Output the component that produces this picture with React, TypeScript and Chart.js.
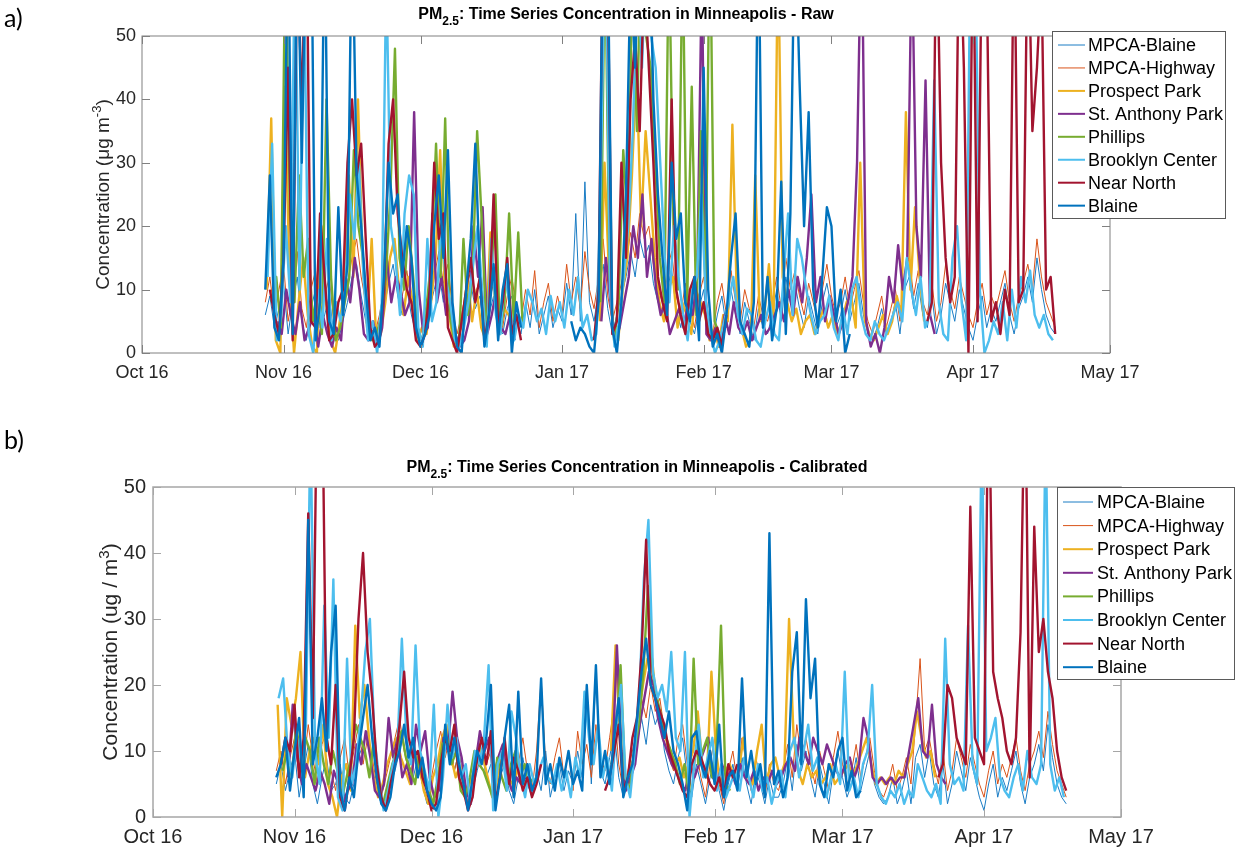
import React, { useEffect, useRef } from "react";
import { Chart, registerables } from "chart.js";

Chart.register(...registerables);

const _ = null; // no reading at that time

// ---------------- data ----------------
const seriesNames = [
  "MPCA-Blaine",
  "MPCA-Highway",
  "Prospect Park",
  "St. Anthony Park",
  "Phillips",
  "Brooklyn Center",
  "Near North",
  "Blaine",
];

// sampling: first day (days since 1 Oct 2016) of each series, one reading per day
const sampleStart = [27, 27, 27.3, 29.6, 28.4, 27.5, 28, 27];
const sampleStep = [1, 1, 1, 1, 1, 1, 1, 1];

const xTickDays = [0, 31, 61, 92, 123, 151, 182, 212];
const xTickLabels = ["Oct 16", "Nov 16", "Dec 16", "Jan 17", "Feb 17", "Mar 17", "Apr 17", "May 17"];
const yTickValues = [0, 10, 20, 30, 40, 50];

// ---- panel a) raw ----
const rawMpcaBlaine = [
  6, 9, 4, 7, 11, 3, 8, 12, 5, 2,
  7, 10, 4, 6, 9, 3, 2, 5, 8, 12,
  14, 9, 5, 2, 2, 4, 7, 11, 14, 9,
  6, 10, 6, 3, 2, 4, 7, 10, 13, 8,
  11, 5, 2, 4, 8, 11, 7, 9, 3, 6,
  9, 4, 3, 7, 9, 5, 3, 8, 4, 10,
  3, 6, 9, 4, 7, 5, 11, 6, 22, 5,
  27, 8, 5, 10, 14, 7, 3, 6, 9, 12,
  16, 12, 18, 15, 17, 11, 8, 6, 10, 13,
  7, 4, 9, 5, 3, 7, 10, 4, 2, 6,
  9, 4, 10, 6, 3, 8, 5, 2, 7, 4,
  3, 6, 10, 5, 12, 8, 11, 7, 4, 9,
  6, 3, 8, 11, 7, 4, 6, 10, 5, 8,
  11, 6, 3, 2, 4, 7, 3, 5, 8, 3,
  10, 12, 7, 11, 6, 4, 9, 3, 6, 11,
  8, 5, 10, 7, 4, 2, 6, 9, 4, 7,
  5, 8, 11, 6, 3, 7, 9, 12, 8, 15,
  10, 6, 4, 3,
];
const rawMpcaHighway = [
  8, 12, 6, 10, 14, 5, 9, 16, 7, 4,
  10, 13, 6, 9, 12, 5, 3, 7, 11, 15,
  18, 12, 8, 4, 3, 6, 10, 14, 17, 12,
  9, 13, 8, 5, 3, 6, 9, 12, 16, 11,
  14, 7, 3, 6, 10, 13, 9, 12, 5, 8,
  11, 6, 4, 9, 12, 7, 5, 10, 6, 13,
  4, 8, 11, 5, 9, 6, 14, 8, 12, 7,
  16, 10, 7, 12, 18, 9, 5, 8, 11, 14,
  19, 15, 22, 18, 20, 14, 10, 8, 13, 16,
  9, 6, 11, 7, 4, 9, 12, 6, 3, 8,
  11, 6, 13, 8, 5, 10, 7, 4, 9, 6,
  5, 8, 12, 7, 15, 10, 13, 9, 6, 11,
  8, 5, 10, 14, 9, 6, 8, 12, 7, 10,
  13, 8, 5, 3, 6, 9, 4, 7, 10, 5,
  12, 15, 9, 13, 8, 6, 11, 5, 8, 14,
  10, 7, 12, 9, 6, 4, 8, 11, 6, 9,
  7, 10, 13, 8, 5, 9, 11, 14, 10, 18,
  12, 8, 6, 4,
];
const rawProspectPark = [
  10, 37, 2, 0, 42, 12, 0, 8, 15, 6,
  1, 0, 20, 8, 2, 0, 5, 10, 28, 12,
  40, 15, 4, 18, 2, 3, 8, 15, 18, 10,
  6, 12, 8, 2, 4, 3, 8, 15, 32, 10,
  6, 1, 2, 6, 12, 5, 10, 4, 2, 19,
  8, 3, 7, 6, 4, _, _, _, _, _,
  _, _, _, _, _, _, _, _, _, _,
  _, _, _, 5, 30, 12, 3, 2, 10, 15,
  28, 45, 20, 35, 25, 15, 8, 5, 10, 12,
  4, 8, 6, 3, 10, 8, 6, 2, 4, 1,
  6, 5, 36, 8, 4, 1, 2, 28, 5, 6,
  14, 4, 65, 12, 8, 5, 7, 3, 5, 6,
  3, 5, 7, 4, 6, 3, 5, 8, 9, 4,
  30, 5, 3, 2, 4, 6, 3, 5, 9, 6,
  38, 10, 23, 12, 5,
];
const rawStAnthonyPark = [
  5, 3, 10, 6, 3, 8, 2, 4, 6, 1,
  6, 3, 1, 4, 2, 12, 8, 15, 10, 3,
  2, 5, 1, 4, 15, 8, 12, 10, 6, 8,
  38, 10, 3, 4, 22, 8, 12, 6, 8, 3,
  1, 2, 5, 20, 12, 23, 3, 6, 10, 4,
  3, 6, 2, _, _, _, _, _, _, _,
  _, _, _, _, _, _, _, _, _, _,
  _, 5, 15, 8, 2, 4, 8, 12, 20, 15,
  25, 12, 18, 10, 6, 8, 3, 5, 7, 4,
  8, 6, 12, 60, 3, 2, 4, 1, 6, 3,
  8, 4, 3, 5, 2, 4, 6, 3, 4, 6,
  8, 5, 10, 6, 12, 8, 15, 25, 8, 12,
  5, 9, 6, 3, 5, 8, 12, 30, 70, 5,
  1, 3, 0, 4, 12, 8, 17, 10, 15, 65,
  20, 12, 43, 6, 3,
];
const rawPhillips = [
  8, 12, 4, 65, 22, 8, 28, 12, 18, 5,
  10, 3, 40, 12, 2, 4, 8, 12, 32, 20,
  15, 5, 2, 3, 6, 12, 25, 48, 15, 10,
  20, 12, 3, 2, 8, 15, 33, 12, 37, 6,
  2, 1, 18, 6, 12, 35, 21, 4, 10, 25,
  3, 8, 22, 5, 19, 4, _, _, _, _,
  _, _, _, _, _, _, _, _, _, _,
  _, _, 8, 65, 12, 2, 8, 32, 20, 60,
  35, 70, 50, 45, 30, 15, 8, 65, 20, 10,
  65, 8, 42, 6, 35, 10, 70, 5, 3,
];
const rawBrooklynCenter = [
  12, 33, 2, 6, 20, 8, 65, 10, 60, 3,
  0, 10, 4, 18, 2, 8, 5, 10, 25, 18,
  30, 12, 2, 5, 0, 8, 60, 20, 15, 6,
  22, 28, 25, 4, 1, 18, 5, 8, 20, 12,
  8, 2, 1, 4, 8, 14, 20, 10, 1, 18,
  6, 3, 12, 8, 2, 6, 4, 10, 8, 5,
  7, 3, 9, 5, 8, 4, 10, 6, 12, 4,
  6, 2, 3, 28, 70, 10, 1, 5, 12, 20,
  35, 60, 45, 65, 50, 45, 30, 15, 8, 20,
  12, 6, 2, 10, 12, 25, 8, 3, 0, 2,
  5, 8, 12, 6, 3, 7, 6, 2, 1, 5,
  8, 3, 2, 12, 22, 6, 18, 15, 10, 6,
  3, 5, 6, 9, 4, 2, 7, 3, 10, 12,
  6, 3, 2, 5, 3, 2, 4, 6, 8, 5,
  15, 10, 6, 12, 4, 6, 43, 8, 3, 2,
  15, 20, 8, 2, 70, 65, 10, 0, 2, 5,
  3, 8, 2, 10, 4, 12, 8, 13, 6, 4,
  6, 3, 2,
];
const rawNearNorth = [
  10, 6, 3, 15, 45, 2, 65, 38, 70, 5,
  4, 22, 12, 2, 3, 8, 10, 30, 40, 28,
  33, 18, 4, 1, 2, 10, 33, 40, 22, 15,
  10, 8, 2, 1, 3, 10, 30, 18, 22, 4,
  2, 0, 5, 10, 15, 8, 12, 2, 6, 25,
  4, 8, 15, 3, 6, 2, _, _, _, _,
  _, _, _, _, _, _, _, _, _, _,
  _, 2, 10, 70, 60, 3, 5, 30, 15, 40,
  50, 35, 60, 45, 30, 12, 8, 5, 40, 10,
  6, 3, 10, 12, 5, 8, 3, 2, 4, 1,
  6, _, _, _, _, _, _, _, _, _,
  _, _, _, _, _, _, _, _, _, _,
  _, _, _, _, _, _, _, _, _, _,
  _, _, _, _, _, _, _, _, _, _,
  _, _, _, _, 5, 8, 70, 30, 15, 8,
  12, 70, 45, 0, 70, 5, 70, 60, 5, 8,
  3, 10, 6, 70, 8, 10, 70, 35, 45, 60,
  10, 12, 3,
];
const rawBlaine = [
  10, 28, 4, 2, 15, 70, 3, 70, 30, 70,
  75, 2, 8, 70, 5, 3, 23, 6, 14, 70,
  28, 20, 10, 2, 4, 1, 12, 30, 22, 25,
  12, 20, 15, 4, 1, 3, 6, 20, 28, 15,
  32, 8, 1, 0, 10, 18, 33, 12, 1, 6,
  14, 2, 10, 14, 0, 8, 4, _, _, _,
  _, _, _, _, _, _, _, 5, 2, 4,
  3, 1, 0, 8, 70, 65, 4, 0, 8, 25,
  60, 45, 70, 55, 70, 40, 25, 15, 6, 30,
  18, 22, 8, 5, 12, 2, 45, 10, 1, 3,
  0, 6, 15, 22, 5, 3, 1, 8, 70, 4,
  12, 2, 7, 27, 3, 22, 70, 43, 20, 38,
  10, 4, 12, 23, 20, 5, 10, 0, 3,
];

// ---- panel b) calibrated ----
const calMpcaBlaine = [
  5, 8, 4, 7, 10, 3, 7, 11, 5, 2,
  6, 9, 4, 5, 8, 3, 2, 5, 9, 11,
  13, 8, 4, 2, 3, 5, 7, 10, 13, 8,
  6, 9, 5, 2, 2, 4, 7, 10, 12, 7,
  10, 5, 2, 4, 7, 10, 6, 8, 3, 6,
  8, 4, 2, 6, 9, 5, 3, 7, 4, 10,
  3, 6, 8, 4, 7, 5, 10, 6, 19, 5,
  22, 7, 5, 9, 13, 6, 3, 5, 8, 11,
  15, 11, 17, 14, 16, 10, 7, 5, 9, 12,
  6, 3, 8, 5, 2, 6, 9, 4, 1, 5,
  8, 4, 9, 5, 2, 7, 5, 2, 6, 3,
  3, 5, 9, 4, 11, 7, 10, 6, 3, 8,
  5, 2, 7, 10, 6, 3, 5, 9, 4, 7,
  10, 5, 3, 2, 3, 6, 2, 4, 7, 2,
  9, 11, 6, 10, 5, 3, 8, 2, 5, 10,
  7, 4, 9, 6, 3, 1, 5, 8, 3, 6,
  4, 7, 10, 5, 2, 6, 8, 11, 7, 14,
  9, 5, 3, 2,
];
const calMpcaHighway = [
  7, 10, 5, 9, 12, 6, 8, 14, 9, 5,
  11, 13, 7, 4, 9, 12, 6, 10, 14, 8,
  12, 9, 5, 3, 6, 9, 12, 15, 10, 7,
  11, 8, 5, 3, 6, 10, 13, 9, 12, 7,
  10, 5, 2, 5, 9, 12, 8, 10, 4, 7,
  11, 6, 3, 8, 12, 7, 4, 10, 21, 8,
  5, 9, 12, 6, 10, 4, 13, 8, 11, 6,
  14, 9, 7, 12, 17, 8, 4, 7, 10, 13,
  18, 15, 20, 16, 18, 13, 9, 7, 12, 14,
  8, 4, 10, 6, 3, 8, 12, 5, 2, 7,
  10, 5, 12, 8, 4, 9, 6, 3, 8, 5,
  4, 7, 11, 6, 14, 9, 12, 8, 5, 10,
  7, 4, 9, 13, 8, 5, 7, 11, 6, 9,
  12, 7, 4, 3, 5, 8, 4, 6, 9, 5,
  14, 24, 10, 12, 8, 5, 10, 4, 7, 12,
  9, 6, 11, 8, 5, 3, 7, 10, 5, 8,
  6, 9, 12, 7, 4, 8, 10, 13, 9, 16,
  11, 7, 5, 3,
];
const calProspectPark = [
  17, 0, 18, 14, 18, 25, 6, 10, 12, 8,
  14, 5, 3, 0, 6, 8, 4, 29, 15, 20,
  12, 6, 3, 5, 8, 10, 12, 9, 7, 5,
  10, 8, 4, 2, 6, 8, 12, 14, 9, 6,
  8, 3, 5, 7, 11, 9, 6, 3, 5, 9,
  7, 5, 6, 8, 5, _, _, _, _, _,
  _, _, _, _, _, _, _, _, _, _,
  _, _, _, 10, 26, 12, 5, 7, 9, 15,
  20, 24, 24, 17, 15, 12, 10, 8, 9, 6,
  8, 10, 16, 8, 6, 22, 10, 5, 7, 8,
  6, 7, 12, 6, 5, 10, 14, 5, 8, 9,
  6, 8, 30, 12, 7, 5, 8, 6, 7, 5,
  6, 8, 5, 6, 7, 8, 6, 8, 10, 12,
  8, 5, 6, 5, 6, 5, 7, 6, 8, 10,
  16, 12, 9, 10, 6,
];
const calStAnthonyPark = [
  6, 17, 9, 5, 8, 6, 4, 7, 5, 2,
  7, 5, 2, 4, 5, 11, 8, 13, 9, 4,
  3, 5, 15, 9, 12, 6, 8, 5, 14, 10,
  13, 6, 3, 4, 12, 10, 19, 12, 9, 4,
  2, 8, 13, 10, 12, 6, 9, 11, 6, 4,
  6, 5, 6, _, _, _, _, _, _, _,
  _, _, _, _, _, _, _, _, _, _,
  _, 8, 26, 10, 4, 6, 8, 14, 18, 22,
  20, 15, 12, 10, 8, 7, 5, 4, 8, 6,
  8, 10, 12, 6, 5, 8, 6, 7, 5, 8,
  6, 5, 7, 4, 6, 5, 7, 5, 6, 8,
  9, 7, 12, 10, 8, 12, 10, 8, 11, 9,
  7, 6, 8, 9, 6, 8, 15, 12, 6, 5,
  6, 5, 6, 5, 6, 6, 10, 14, 18, 10,
  9, 17, 8, 6, 5,
];
const calPhillips = [
  7, 10, 6, 14, 8, 12, 10, 5, 12, 8,
  5, 10, 7, 3, 6, 9, 14, 12, 10, 6,
  12, 4, 2, 5, 8, 10, 13, 9, 7, 5,
  10, 6, 4, 2, 6, 11, 12, 8, 10, 4,
  3, 6, 10, 8, 7, 5, 3, 9, 6, 4,
  8, 10, 6, 8, 5, 6, _, _, _, _,
  _, _, _, _, _, _, _, _, _, _,
  _, _, 8, 12, 23, 6, 4, 10, 14, 22,
  35, 22, 18, 15, 12, 10, 8, 5, 8, 3,
  24, 8, 10, 12, 6, 10, 29, 5, 4,
];
const calBrooklynCenter = [
  18, 21, 10, 6, 12, 8, 14, 60, 10, 5,
  32, 12, 36, 3, 1, 24, 5, 8, 15, 25,
  30, 12, 6, 1, 4, 8, 10, 27, 12, 8,
  26, 10, 7, 4, 17, 0, 6, 17, 9, 12,
  6, 8, 2, 10, 8, 12, 23, 1, 8, 10,
  4, 16, 12, 6, 3, 8, 5, 7, 9, 6,
  5, 8, 4, 7, 3, 9, 6, 19, 12, 8,
  14, 6, 9, 4, 14, 20, 6, 3, 10, 18,
  36, 45, 22, 18, 20, 16, 25, 12, 10, 25,
  0, 8, 14, 6, 9, 12, 4, 8, 3, 5,
  7, 4, 9, 6, 3, 8, 4, 6, 2, 5,
  7, 3, 10, 12, 6, 10, 14, 7, 9, 4,
  3, 6, 8, 5, 22, 4, 6, 3, 8, 10,
  20, 5, 3, 2, 4, 3, 5, 2, 4, 3,
  8, 6, 4, 3, 5, 2, 27, 8, 5, 6,
  4, 29, 8, 5, 60, 10, 12, 15, 6, 4,
  3, 6, 8, 4, 10, 6, 5, 8, 60, 8,
  4, 6, 3,
];
const calNearNorth = [
  8, 12, 10, 17, 6, 12, 46, 15, 70, 70,
  12, 8, 20, 3, 1, 6, 12, 30, 40, 25,
  18, 8, 3, 1, 5, 8, 14, 22, 12, 9,
  10, 6, 4, 1, 2, 8, 12, 10, 14, 6,
  4, 1, 3, 9, 12, 8, 13, 2, 6, 12,
  5, 9, 7, 4, 6, 3, 5, 8, _, _,
  _, _, _, _, _, _, _, _, _, _,
  _, 4, 6, 10, 14, 4, 6, 12, 15, 25,
  42, 20, 18, 16, 14, 10, 8, 6, 4, 3,
  8, 10, 9, 7, 5, 4, 6, 3, 8, 6,
  8, _, _, _, _, _, _, _, _, _,
  _, _, _, _, _, _, _, _, _, _,
  _, _, _, _, _, _, _, _, _, _,
  _, _, _, _, _, _, _, _, _, _,
  _, _, _, _, 6, 8, 20, 18, 12, 10,
  8, 47, 12, 10, 8, 70, 22, 18, 15, 10,
  8, 12, 28, 70, 6, 44, 25, 30, 22, 18,
  10, 6, 4,
];
const calBlaine = [
  6, 8, 12, 4, 10, 15, 3, 45, 8, 12,
  18, 10, 25, 32, 4, 1, 6, 3, 10, 15,
  20, 12, 6, 2, 1, 3, 8, 10, 14, 9,
  12, 6, 9, 4, 2, 1, 3, 14, 8, 12,
  8, 5, 1, 6, 10, 8, 12, 20, 1, 6,
  12, 17, 3, 19, 5, 8, 4, 6, 21, 5,
  8, 4, 9, 6, 10, 5, 7, 4, 20, 8,
  23, 6, 10, 5, 12, 18, 3, 6, 8, 15,
  22, 27, 20, 18, 15, 12, 16, 10, 8, 5,
  1, 12, 13, 8, 6, 10, 5, 14, 3, 6,
  7, 4, 21, 6, 10, 5, 8, 3, 43, 5,
  7, 3, 6, 22, 28, 8, 33, 18, 24, 5,
  3, 8, 6, 10, 12, 4, 7, 3, 4,
];

const rawSeries = [rawMpcaBlaine, rawMpcaHighway, rawProspectPark, rawStAnthonyPark, rawPhillips, rawBrooklynCenter, rawNearNorth, rawBlaine];
const calSeries = [calMpcaBlaine, calMpcaHighway, calProspectPark, calStAnthonyPark, calPhillips, calBrooklynCenter, calNearNorth, calBlaine];

// ---------------- styles ----------------
const seriesColors = ["#1a7cc4", "#d95319", "#EDB120", "#7E2F8E", "#77AC30", "#4DBEEE", "#A2142F", "#0072BD"];
const seriesWidths = [1, 1, 2.4, 2.4, 2.4, 2.4, 2.4, 2.4];
const legendWidths = [1, 1, 2, 2, 2, 2, 2, 2];
const FONT = '"Liberation Sans", Arial, Helvetica, sans-serif';
const TEXT = "#262626";

type Panel = {
  padTop: number;
  padRight: number;
  xAxisHeight: number;
  yAxisWidth: number;
  tickSize: number;
  xTickPad: number;
  yTickPad: number;
  frameColor: string;
  frameWidth: number;
  titleTail: string;
  titleSize: number;
  titleBaseline: number;
  yPre: string;
  ySup: string;
  yPost: string;
  yLabelX: number;
  yLabelSize: number;
  legendBox: number[];
  legendFirst: number;
  legendGap: number;
  legendLine: number[];
  legendTextX: number;
  legendSize: number;
  tag: string;
  tagY: number;
};

const panelA: Panel = {
  padTop: 36,
  padRight: 131,
  xAxisHeight: 47,
  yAxisWidth: 142,
  tickSize: 18,
  xTickPad: 9,
  yTickPad: 6,
  frameColor: "#808080",
  frameWidth: 1,
  titleTail: ": Time Series Concentration in Minneapolis - Raw",
  titleSize: 16,
  titleBaseline: 19,
  yPre: "Concentration (\u03BCg m",
  ySup: "-3",
  yPost: ")",
  yLabelX: 102,
  yLabelSize: 19,
  legendBox: [1052, 31, 173, 187],
  legendFirst: 45,
  legendGap: 22.95,
  legendLine: [1058, 1085],
  legendTextX: 1088,
  legendSize: 18,
  tag: "a)",
  tagY: 27,
};

const panelB: Panel = {
  padTop: 67,
  padRight: 120,
  xAxisHeight: 35,
  yAxisWidth: 153,
  tickSize: 20,
  xTickPad: 8,
  yTickPad: 7,
  frameColor: "#a6a6a6",
  frameWidth: 1.5,
  titleTail: ": Time Series Concentration in Minneapolis - Calibrated",
  titleSize: 16,
  titleBaseline: 52,
  yPre: "Concentration (ug / m",
  ySup: "3",
  yPost: ")",
  yLabelX: 110,
  yLabelSize: 21,
  legendBox: [1057, 67, 177, 192],
  legendFirst: 82,
  legendGap: 23.6,
  legendLine: [1063, 1093],
  legendTextX: 1097,
  legendSize: 18,
  tag: "b)",
  tagY: 29,
};

function decorPlugin(p: Panel) {
  return {
    id: "decor",
    afterDraw(chart: any) {
      const ctx: CanvasRenderingContext2D = chart.ctx;
      const { left, right, top, bottom } = chart.chartArea;
      const xs = chart.scales.x;
      const ys = chart.scales.y;
      ctx.save();

      // frame + inward ticks on all sides
      ctx.strokeStyle = p.frameColor;
      ctx.lineWidth = p.frameWidth;
      ctx.strokeRect(left, top, right - left, bottom - top);
      ctx.lineWidth = 1;
      const tl = 8;
      ctx.beginPath();
      xTickDays.forEach((d) => {
        const x = Math.round(xs.getPixelForValue(d)) + 0.5;
        ctx.moveTo(x, bottom);
        ctx.lineTo(x, bottom - tl);
        ctx.moveTo(x, top);
        ctx.lineTo(x, top + tl);
      });
      yTickValues.forEach((v) => {
        const y = Math.round(ys.getPixelForValue(v)) + 0.5;
        ctx.moveTo(left, y);
        ctx.lineTo(left + tl, y);
        ctx.moveTo(right, y);
        ctx.lineTo(right - tl, y);
      });
      ctx.stroke();

      // title with subscript
      const cx = (left + right) / 2;
      ctx.fillStyle = "#000";
      ctx.textBaseline = "alphabetic";
      ctx.textAlign = "left";
      const big = `bold ${p.titleSize}px ${FONT}`;
      const small = `bold ${Math.round(p.titleSize * 0.72)}px ${FONT}`;
      ctx.font = big;
      const w1 = ctx.measureText("PM").width;
      const w3 = ctx.measureText(p.titleTail).width;
      ctx.font = small;
      const w2 = ctx.measureText("2.5").width;
      let tx = cx - (w1 + w2 + w3) / 2;
      ctx.font = big;
      ctx.fillText("PM", tx, p.titleBaseline);
      tx += w1;
      ctx.font = small;
      ctx.fillText("2.5", tx, p.titleBaseline + p.titleSize * 0.35);
      tx += w2;
      ctx.font = big;
      ctx.fillText(p.titleTail, tx, p.titleBaseline);

      // y label (rotated) with superscript
      const cy = (top + bottom) / 2;
      ctx.save();
      ctx.translate(p.yLabelX, cy);
      ctx.rotate(-Math.PI / 2);
      ctx.fillStyle = TEXT;
      const lf = `${p.yLabelSize}px ${FONT}`;
      const sf = `${Math.round(p.yLabelSize * 0.7)}px ${FONT}`;
      ctx.font = lf;
      const a1 = ctx.measureText(p.yPre).width;
      const a3 = ctx.measureText(p.yPost).width;
      ctx.font = sf;
      const a2 = ctx.measureText(p.ySup).width;
      let lx = -(a1 + a2 + a3) / 2;
      const base = p.yLabelSize * 0.35;
      ctx.font = lf;
      ctx.fillText(p.yPre, lx, base);
      lx += a1;
      ctx.font = sf;
      ctx.fillText(p.ySup, lx, base - p.yLabelSize * 0.42);
      lx += a2;
      ctx.font = lf;
      ctx.fillText(p.yPost, lx, base);
      ctx.restore();

      // legend
      const [bx, by, bw, bh] = p.legendBox;
      ctx.fillStyle = "#fff";
      ctx.fillRect(bx, by, bw, bh);
      ctx.strokeStyle = "#5a5a5a";
      ctx.lineWidth = 1;
      ctx.strokeRect(bx + 0.5, by + 0.5, bw, bh);
      ctx.font = `${p.legendSize}px ${FONT}`;
      ctx.textBaseline = "middle";
      seriesNames.forEach((name, i) => {
        const y = p.legendFirst + i * p.legendGap;
        ctx.strokeStyle = seriesColors[i];
        ctx.lineWidth = legendWidths[i];
        ctx.beginPath();
        ctx.moveTo(p.legendLine[0], y);
        ctx.lineTo(p.legendLine[1], y);
        ctx.stroke();
        ctx.fillStyle = "#000";
        ctx.fillText(name, p.legendTextX, y + 1);
      });

      // panel tag
      ctx.font = `25px Lato, "Open Sans", sans-serif`;
      ctx.fillStyle = "#000";
      ctx.textBaseline = "alphabetic";
      ctx.fillText(p.tag, 4, p.tagY);
      ctx.restore();
    },
  };
}

function buildConfig(values: (number | null)[][], p: Panel): any {
  const datasets = seriesNames.map((name, i) => ({
    label: name,
    data: values[i].map((v, k) => ({ x: sampleStart[i] + k * sampleStep[i], y: v })),
    borderColor: seriesColors[i],
    backgroundColor: seriesColors[i],
    borderWidth: seriesWidths[i],
    pointRadius: 0,
    tension: 0,
    spanGaps: false,
    fill: false,
    order: seriesNames.length - 1 - i,
    borderJoinStyle: "round",
  }));
  return {
    type: "line",
    data: { datasets },
    options: {
      animation: false,
      responsive: false,
      devicePixelRatio: 1,
      events: [],
      layout: { padding: { left: 0, right: p.padRight, top: p.padTop, bottom: 0 } },
      plugins: { legend: { display: false }, tooltip: { enabled: false }, title: { display: false } },
      scales: {
        x: {
          type: "linear",
          min: 0,
          max: 212,
          grid: { display: false, drawTicks: false },
          border: { display: false },
          afterBuildTicks: (s: any) => {
            s.ticks = xTickDays.map((v) => ({ value: v }));
          },
          afterFit: (s: any) => {
            s.height = p.xAxisHeight;
          },
          ticks: {
            autoSkip: false,
            maxRotation: 0,
            minRotation: 0,
            padding: p.xTickPad,
            color: TEXT,
            font: { family: FONT, size: p.tickSize },
            callback: (_v: any, idx: number) => xTickLabels[idx],
          },
        },
        y: {
          type: "linear",
          min: 0,
          max: 50,
          grid: { display: false, drawTicks: false },
          border: { display: false },
          afterBuildTicks: (s: any) => {
            s.ticks = yTickValues.map((v) => ({ value: v }));
          },
          afterFit: (s: any) => {
            s.width = p.yAxisWidth;
          },
          ticks: {
            padding: p.yTickPad,
            color: TEXT,
            font: { family: FONT, size: p.tickSize },
            callback: (v: any) => String(v),
          },
        },
      },
    },
    plugins: [decorPlugin(p)],
  };
}

export default function App() {
  const refA = useRef<HTMLCanvasElement>(null);
  const refB = useRef<HTMLCanvasElement>(null);
  useEffect(() => {
    const a = new Chart(refA.current as HTMLCanvasElement, buildConfig(rawSeries, panelA));
    const b = new Chart(refB.current as HTMLCanvasElement, buildConfig(calSeries, panelB));
    return () => {
      a.destroy();
      b.destroy();
    };
  }, []);
  return (
    <div style={{ position: "absolute", left: 0, top: 0, width: 1241, height: 852, background: "#fff" }}>
      <canvas ref={refA} width={1241} height={400} style={{ position: "absolute", left: 0, top: 0 }} />
      <canvas ref={refB} width={1241} height={432} style={{ position: "absolute", left: 0, top: 420 }} />
    </div>
  );
}
